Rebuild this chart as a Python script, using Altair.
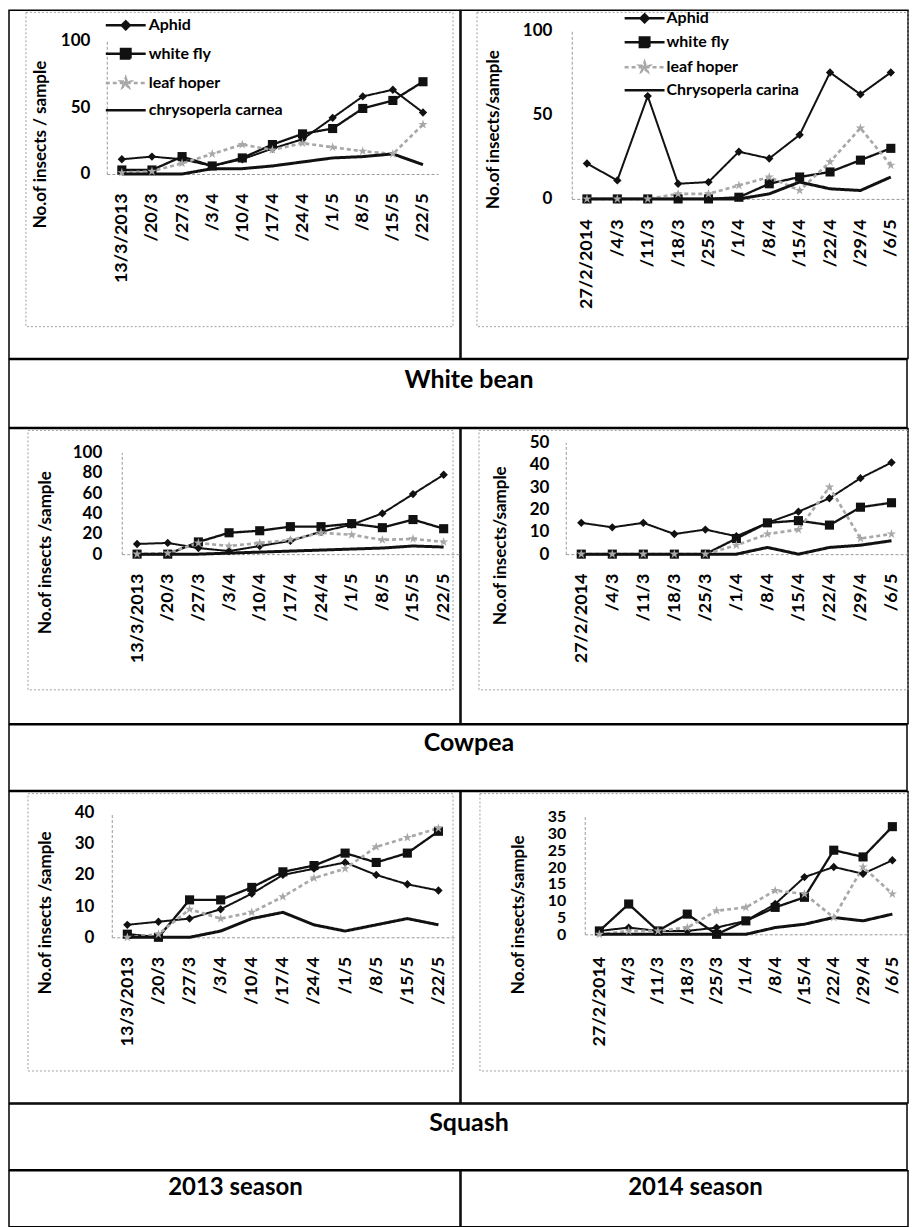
import json
import altair as alt
import pandas as pd

# ---------------- data ----------------
dates_2013 = ["13/3/2013", "/20/3", "/27/3", "/3/4", "/10/4", "/17/4",
              "/24/4", "/1/5", "/8/5", "/15/5", "/22/5"]
dates_2014 = ["27/2/2014", "/4/3", "/11/3", "/18/3", "/25/3", "/1/4",
              "/8/4", "/15/4", "/22/4", "/29/4", "/6/5"]

series_2013 = ["Aphid", "white fly", "leaf hoper", "chrysoperla carnea"]
series_2014 = ["Aphid", "white fly", "leaf hoper", "Chrysoperla carina"]
marker_keys = ["m0", "m1", "m2", "m3"]

crops = ["White bean", "Cowpea", "Squash"]
seasons = ["2013 season", "2014 season"]

# White bean 2013
wb13_aphid = [11, 13, 11, 6, 11, 19, 26, 42, 58, 63, 46]
wb13_whitefly = [3, 3, 13, 6, 12, 22, 30, 34, 49, 55, 69]
wb13_leaf = [1, 2, 8, 15, 22, 18, 23, 20, 17, 15, 37]
wb13_chryso = [0, 0, 0, 4, 4, 6, 9, 12, 13, 15, 7]
# White bean 2014
wb14_aphid = [21, 11, 61, 9, 10, 28, 24, 38, 75, 62, 75]
wb14_whitefly = [0, 0, 0, 0, 0, 1, 9, 13, 16, 23, 30]
wb14_leaf = [0, 0, 0, 3, 3, 8, 13, 5, 22, 42, 20]
wb14_chryso = [0, 0, 0, 0, 0, 0, 3, 10, 6, 5, 13]
# Cowpea 2013
cp13_aphid = [10, 11, 6, 3, 8, 13, 22, 29, 40, 59, 78]
cp13_whitefly = [0, 0, 12, 21, 23, 27, 27, 30, 26, 34, 25]
cp13_leaf = [0, 1, 11, 8, 11, 14, 21, 19, 14, 15, 12]
cp13_chryso = [0, 0, 0, 1, 2, 3, 4, 5, 6, 8, 7]
# Cowpea 2014
cp14_aphid = [14, 12, 14, 9, 11, 8, 14, 19, 25, 34, 41]
cp14_whitefly = [0, 0, 0, 0, 0, 7, 14, 15, 13, 21, 23]
cp14_leaf = [0, 0, 0, 0, 0, 4, 9, 11, 30, 7, 9]
cp14_chryso = [0, 0, 0, 0, 0, 0, 3, 0, 3, 4, 6]
# Squash 2013
sq13_aphid = [4, 5, 6, 9, 14, 20, 22, 24, 20, 17, 15]
sq13_whitefly = [1, 0, 12, 12, 16, 21, 23, 27, 24, 27, 34]
sq13_leaf = [0, 1, 9, 6, 8, 13, 19, 22, 29, 32, 35]
sq13_chryso = [0, 0, 0, 2, 6, 8, 4, 2, 4, 6, 4]
# Squash 2014
sq14_aphid = [1, 2, 1, 1, 2, 4, 9, 17, 20, 18, 22]
sq14_whitefly = [1, 9, 1, 6, 0, 4, 8, 11, 25, 23, 32]
sq14_leaf = [0, 1, 1, 2, 7, 8, 13, 12, 5, 20, 12]
sq14_chryso = [0, 0, 0, 0, 0, 0, 2, 3, 5, 4, 6]

# ---------------- styles ----------------
FONT = "Lato"
AXC = "#9a9a9a"
COLORS = ["#111111", "#111111", "#a8a8a8", "#111111"]
FILLS = ["#111111", "#111111", "#c8c8c8", "transparent"]
WIDTHS = [2, 3, 1.5, 3]
DASHES = [[1, 0], [1, 0], [4, 3], [1, 0]]
STAR = ("M0,-1L0.22,-0.31L0.95,-0.31L0.36,0.12L0.59,0.81L0,0.38L-0.59,0.81"
        "L-0.36,0.12L-0.95,-0.31L-0.22,-0.31Z")
SHAPES = ["diamond", "square", STAR, "circle"]
SIZES = [70, 110, 90, 0]
LINE = "M-4,0L4,0"
LEG_PATHS = [LINE + "M0,-0.8L0.8,0L0,0.8L-0.8,0Z",
             LINE + "M-0.95,-0.95L0.95,-0.95L0.95,0.95L-0.95,0.95Z",
             LINE + STAR,
             LINE]


def make_legend(series, lg):
    idx = "indexof(%s, datum.value)" % json.dumps(series)
    return alt.Legend(
        orient="none", legendX=lg[0], legendY=lg[1], title=None, padding=0,
        rowPadding=lg[2], labelOffset=lg[3], symbolSize=100, symbolOpacity=1,
        symbolStrokeWidth=2.5,
        symbolType=alt.ExprRef(expr="%s[%s]" % (json.dumps(LEG_PATHS), idx)),
        symbolFillColor=alt.ExprRef(expr="%s[%s]" % (json.dumps(FILLS), idx)),
        symbolDash=alt.ExprRef(expr="%s[%s]" % (json.dumps(DASHES), idx)),
        labelFont=FONT, labelFontSize=16, labelFontWeight="bold",
        labelColor="black", labelLimit=300)


def panel(dates, series, cols, g):
    df = pd.DataFrame([{"date": d, "series": s, "mk": k, "value": v, "order": i}
                       for s, k, vals in zip(series, marker_keys, cols)
                       for i, (d, v) in enumerate(zip(dates, vals))])
    x = alt.X("date:N",
              scale=alt.Scale(domain=dates, range=list(g["xr"]), padding=0.5),
              axis=alt.Axis(title=None, orient="bottom", offset=g["y0"] - g["H"],
                            labelAngle=270, labelPadding=g["xlp"], ticks=False,
                            domainColor=AXC, domainDash=[3, 2], domainWidth=1,
                            labelFont=FONT, labelFontSize=18, labelFontWeight="bold",
                            labelColor="black", labelOverlap=False, grid=False))
    y = alt.Y("value:Q",
              scale=alt.Scale(domain=[0, g["ymax"]], range=[g["y0"], g["yt"]], nice=False),
              axis=alt.Axis(values=g["yv"], orient="left", offset=-g["ax"],
                            labelPadding=g["ylp"], ticks=False, grid=False,
                            domainColor=AXC, domainDash=[3, 2], domainWidth=1,
                            labelFont=FONT, labelFontSize=g["ylfs"], labelFontWeight="bold",
                            labelColor="black", labelOverlap=False,
                            title=g["title"], titleX=g["tx"] - g["ax"], titleY=g["ty"],
                            titleAngle=270, titleAlign="center", titleBaseline="middle",
                            titleFont=FONT, titleFontSize=17, titleFontWeight="bold",
                            titleColor="black"))
    cscale = alt.Scale(domain=series, range=COLORS)
    fx1, fy1, fx2, fy2 = g["frame"]
    frame = alt.Chart(alt.Data(values=[{"f": 1}])).mark_rect(
        fill="transparent", stroke="#a0a0a0", strokeWidth=1, strokeDash=[2, 2]
    ).encode(x=alt.value(fx1), x2=alt.value(fx2), y=alt.value(fy1), y2=alt.value(fy2))
    leg = make_legend(series, g["legend"]) if g.get("legend") else None
    lines = alt.Chart(df).mark_line().encode(
        x=x, y=y,
        color=alt.Color("series:N", scale=cscale, legend=leg),
        strokeDash=alt.StrokeDash("mk:N", scale=alt.Scale(domain=marker_keys, range=DASHES), legend=None),
        strokeWidth=alt.StrokeWidth("mk:N", scale=alt.Scale(domain=marker_keys, range=WIDTHS), legend=None),
        order="order:Q")
    points = alt.Chart(df).transform_filter(
        alt.FieldOneOfPredicate(field="mk", oneOf=marker_keys[:3])
    ).mark_point(filled=True, opacity=1).encode(
        x=x, y=y,
        color=alt.Color("series:N", scale=cscale, legend=None),
        shape=alt.Shape("mk:N", scale=alt.Scale(domain=marker_keys, range=SHAPES), legend=None),
        size=alt.Size("mk:N", scale=alt.Scale(domain=marker_keys, range=SIZES), legend=None))
    return alt.layer(frame, lines, points).properties(width=g["W"], height=g["H"])


def label_cell(text, w, h, x, y, size):
    return alt.Chart(alt.Data(values=[{"t": text}])).mark_text(
        font=FONT, fontSize=size, fontWeight="bold", color="black",
        align="center", baseline="middle"
    ).encode(text="t:N", x=alt.value(x), y=alt.value(y)).properties(width=w, height=h)


G1 = dict(W=452, H=349, ax=98, xr=(98, 430), y0=164, yt=30, ymax=100, yv=[0, 50, 100],
          ylp=17, ylfs=17, tx=32, ty=134, xlp=19, frame=(17, 2, 445, 317),
          legend=(109, 7, 9.4, 15), title="No.of insects / sample")
G2 = dict(W=448, H=349, ax=111, xr=(111, 446), y0=189, yt=20, ymax=100, yv=[0, 50, 100],
          ylp=20, ylfs=17, tx=33, ty=119, xlp=20, frame=(16, 2, 448, 317),
          legend=(176, 0, 5, 14), title="No.of insects/sample")
G3 = dict(W=452, H=296, ax=113, xr=(113, 451), y0=126, yt=24, ymax=100,
          yv=[0, 20, 40, 60, 80, 100], ylp=20, ylfs=17, tx=37, ty=124, xlp=19,
          frame=(19, 2, 445, 262), title="No.of insects /sample")
G4 = dict(W=448, H=296, ax=105, xr=(105, 447), y0=126, yt=14, ymax=50,
          yv=[0, 10, 20, 30, 40, 50], ylp=17, ylfs=17, tx=40, ty=117, xlp=19,
          frame=(18, 2, 448, 262), title="No.of insects/sample")
G5 = dict(W=452, H=312, ax=103, xr=(103, 446), y0=146, yt=21, ymax=40,
          yv=[0, 10, 20, 30, 40], ylp=18, ylfs=17, tx=37, ty=121, xlp=19,
          frame=(19, 2, 445, 280), title="No.of insects /sample")
G6 = dict(W=448, H=312, ax=124, xr=(124, 447), y0=143, yt=25, ymax=35,
          yv=[0, 5, 10, 15, 20, 25, 30, 35], ylp=19, ylfs=16, tx=58, ty=123, xlp=22,
          frame=(19, 2, 448, 280), title="No.of insects/sample")

p1 = panel(dates_2013, series_2013, [wb13_aphid, wb13_whitefly, wb13_leaf, wb13_chryso], G1)
p2 = panel(dates_2014, series_2014, [wb14_aphid, wb14_whitefly, wb14_leaf, wb14_chryso], G2)
p3 = panel(dates_2013, series_2013, [cp13_aphid, cp13_whitefly, cp13_leaf, cp13_chryso], G3)
p4 = panel(dates_2014, series_2014, [cp14_aphid, cp14_whitefly, cp14_leaf, cp14_chryso], G4)
p5 = panel(dates_2013, series_2013, [sq13_aphid, sq13_whitefly, sq13_leaf, sq13_chryso], G5)
p6 = panel(dates_2014, series_2014, [sq14_aphid, sq14_whitefly, sq14_leaf, sq14_chryso], G6)

SP = -3


def row(a, b):
    return alt.hconcat(a, b, spacing=SP).resolve_scale(color="independent").resolve_legend(
        color="independent")


row1 = row(p1, p2)
row2 = row(p3, p4)
row3 = row(p5, p6)
lab1 = label_cell(crops[0], 900, 68, 461, 20, 25)
lab2 = label_cell(crops[1], 900, 66, 461, 18, 25)
lab3 = label_cell(crops[2], 900, 66, 461, 19, 25)
season_row = alt.hconcat(label_cell(seasons[0], 452, 56, 227, 17, 24),
                         label_cell(seasons[1], 448, 56, 235, 17, 24), spacing=SP)

chart = alt.vconcat(row1, lab1, row2, lab2, row3, lab3, season_row, spacing=SP).resolve_scale(
    color="independent"
).resolve_legend(color="independent").properties(
    padding=0
).configure_view(stroke="black", strokeWidth=1.5)

chart.save("out.html", embed_options={"renderer": "svg", "actions": False})
